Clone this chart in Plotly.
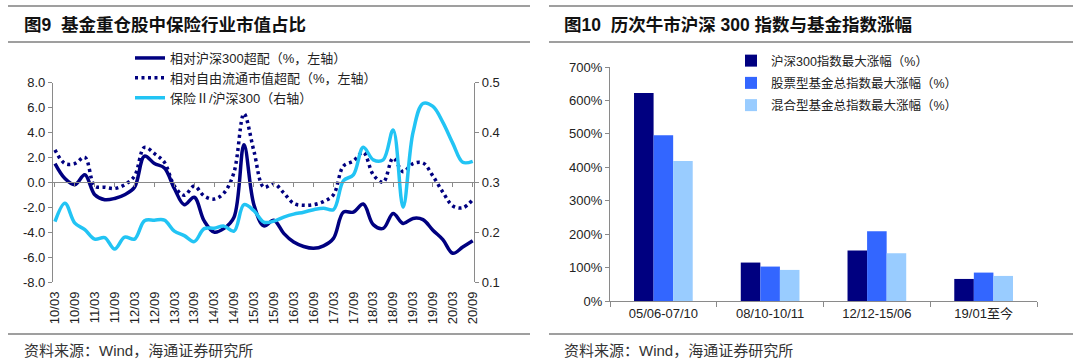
import plotly.graph_objects as go

# ---------------- Left chart data (quarterly) ----------------
quarters = [f"{y:02d}/{m}" for y in range(10, 21) for m in ("03", "06", "09", "12")][:43]
tick_labels = [q for q in quarters if q.endswith("03") or q.endswith("09")]

rel_hs300 = [1.5, 0.3, -0.2, 0.6, -1.0, -1.4, -1.3, -1.0, -0.4, 2.1,
             1.5, 1.15, -0.5, -1.8, -1.2, -3.1, -4.0, -3.7, -2.8, 3.0,
             -1.8, -3.5, -3.05, -4.1, -4.8, -5.15, -5.3, -5.1, -4.5, -2.4,
             -2.4, -1.75, -3.4, -3.7, -2.5, -3.3, -2.9, -3.0, -3.85, -4.6,
             -5.7, -5.2, -4.7]
rel_free = [2.6, 1.5, 1.5, 2.0, -0.3, -0.4, -0.5, -0.2, 0.5, 2.8,
            2.3, 1.6, -0.3, -1.05, -0.3, -1.1, -1.35, -0.85, 0.8, 5.5,
            2.5, -0.4, -0.1, -0.85, -1.7, -1.85, -1.8, -1.55, -1.0, 1.3,
            1.7, 2.4, 0.6, 0.0, 1.95, 0.85, 1.5, 1.55, 0.5, -0.8,
            -1.9, -2.05, -1.4]
ins_ratio = [0.221, 0.258, 0.218, 0.205, 0.186, 0.189, 0.166, 0.190, 0.186, 0.223,
             0.224, 0.224, 0.202, 0.193, 0.181, 0.207, 0.208, 0.212, 0.202, 0.255,
             0.243, 0.220, 0.222, 0.230, 0.236, 0.240, 0.245, 0.248, 0.245, 0.303,
             0.315, 0.370, 0.345, 0.345, 0.405, 0.250, 0.400, 0.458, 0.452, 0.420,
             0.378, 0.340, 0.342]

left_y_vals = [-8, -6, -4, -2, 0, 2, 4, 6, 8]
left_y_text = ["-8.0", "-6.0", "-4.0", "-2.0", "0.0", "2.0", "4.0", "6.0", "8.0"]
right_y_vals = [0.1, 0.2, 0.3, 0.4, 0.5]

# ---------------- Right chart data ----------------
periods = ["05/06-07/10", "08/10-10/11", "12/12-15/06", "19/01至今"]
hs300_gain = [622, 115, 151, 66]
stock_fund_gain = [496, 103, 209, 85]
mixed_fund_gain = [419, 93, 143, 75]

FONT = "Liberation Sans, Noto Sans CJK SC, sans-serif"
NAVY = "#000080"
CYAN = "#22C4F4"
AXIS = "#8a8a8a"
W, H = 1080, 363

def px(x):
    return x / W

def py(y):
    return 1 - y / H

fig = go.Figure()

fig.add_trace(go.Scatter(x=quarters, y=rel_hs300, name="相对沪深300超配（%，左轴）",
                         mode="lines", line=dict(color=NAVY, width=3.5, shape="spline"),
                         xaxis="x", yaxis="y", legend="legend"))
fig.add_trace(go.Scatter(x=quarters, y=rel_free, name="相对自由流通市值超配（%，左轴）",
                         mode="lines", line=dict(color=NAVY, width=3.5, dash="3px,3.5px", shape="spline"),
                         xaxis="x", yaxis="y", legend="legend"))
fig.add_trace(go.Scatter(x=quarters, y=ins_ratio, name="保险Ⅱ/沪深300（右轴）",
                         mode="lines", line=dict(color=CYAN, width=3.5, shape="spline"),
                         xaxis="x", yaxis="y2", legend="legend"))
# invisible trace to carry the zero-line tick axis
fig.add_trace(go.Scatter(x=quarters, y=[None] * len(quarters), mode="lines",
                         xaxis="x2", yaxis="y", showlegend=False, hoverinfo="skip"))

bar_colors = [NAVY, "#3366FF", "#99CCFF"]
bar_names = ["沪深300指数最大涨幅（%）", "股票型基金总指数最大涨幅（%）", "混合型基金总指数最大涨幅（%）"]
for i, (vals, col, nm) in enumerate(zip([hs300_gain, stock_fund_gain, mixed_fund_gain], bar_colors, bar_names)):
    fig.add_trace(go.Bar(x=periods, y=vals, name=nm, marker=dict(color=col, line=dict(width=0)),
                         xaxis="x3", yaxis="y3", legend="legend2", legendgroup=f"g{i}"))

yb, yt = py(282), py(82.5)
axis_common = dict(showgrid=False, zeroline=False, linecolor=AXIS, linewidth=1.2, automargin=False,
                   tickcolor=AXIS, tickfont=dict(family=FONT, size=13, color="#222"))

fig.update_layout(
    width=W, height=H, autosize=False,
    margin=dict(l=0, r=0, t=0, b=0, pad=0, autoexpand=False),
    paper_bgcolor="white", plot_bgcolor="white",
    font=dict(family=FONT, color="#222"),
    barmode="group", bargap=0.45, bargroupgap=0,
    xaxis=dict(domain=[px(53), px(474)], anchor="y", type="category",
               range=[-0.2, 42.13], tickvals=tick_labels, ticktext=tick_labels,
               tickangle=-90, showline=False, ticks="", ticklabelstandoff=6,
               **{k: v for k, v in axis_common.items() if k not in ("linecolor", "linewidth")}),
    xaxis2=dict(matches="x", overlaying="x", anchor="free", position=(yb + yt) / 2,
                type="category", tickvals=tick_labels, showticklabels=False,
                showline=True, ticks="outside", ticklen=4, **axis_common),
    yaxis=dict(domain=[yb, yt], anchor="x", range=[-8, 8], tickvals=left_y_vals,
               ticktext=left_y_text, showline=True, ticks="outside", ticklen=4, **axis_common),
    yaxis2=dict(overlaying="y", side="right", anchor="x", range=[0.1, 0.5],
                tickvals=right_y_vals, tickformat=".1f", showline=True, ticks="outside",
                ticklen=4, **axis_common),
    xaxis3=dict(domain=[px(610), px(1037)], anchor="y3", type="category",
                showline=True, ticks="outside", ticklen=5, tickson="boundaries", **axis_common),
    yaxis3=dict(domain=[py(301), py(67)], anchor="x3", range=[0, 700], dtick=100,
                ticksuffix="%", showline=True, ticks="outside", ticklen=4, **axis_common),
    legend=dict(x=px(130), y=py(43), xanchor="left", yanchor="top",
                bgcolor="rgba(0,0,0,0)", font=dict(family=FONT, size=13, color="#222"),
                traceorder="normal"),
    legend2=dict(x=px(731), y=py(46), xanchor="left", yanchor="top",
                 bgcolor="rgba(0,0,0,0)", font=dict(family=FONT, size=12.5, color="#222"),
                 traceorder="grouped", tracegroupgap=3),
)

# Rules and texts
rule = dict(type="line", xref="paper", yref="paper", line=dict(color="#7f7f7f", width=1.5))
for x0, x1 in [(8, 530), (549, 1073)]:
    for yy in (6, 42, 334):
        fig.add_shape(x0=px(x0), x1=px(x1), y0=py(yy), y1=py(yy), **rule)

fig.add_annotation(text="<b>图9  基金重仓股中保险行业市值占比</b>", x=px(22), y=py(25),
                   xref="paper", yref="paper", xanchor="left", yanchor="middle", showarrow=False,
                   font=dict(family=FONT, size=17.5, color="#111"))
fig.add_annotation(text="<b>图10  历次牛市沪深 300 指数与基金指数涨幅</b>", x=px(562), y=py(25),
                   xref="paper", yref="paper", xanchor="left", yanchor="middle", showarrow=False,
                   font=dict(family=FONT, size=17.5, color="#111"))
for xs in (22, 562):
    fig.add_annotation(text="资料来源：Wind，海通证券研究所", x=px(xs), y=py(350),
                       xref="paper", yref="paper", xanchor="left", yanchor="middle", showarrow=False,
                       font=dict(family=FONT, size=15, color="#333"))

fig.write_html("out.html", config={"displayModeBar": False},
               post_script="document.body.style.margin='0px';document.body.style.overflow='hidden';")
